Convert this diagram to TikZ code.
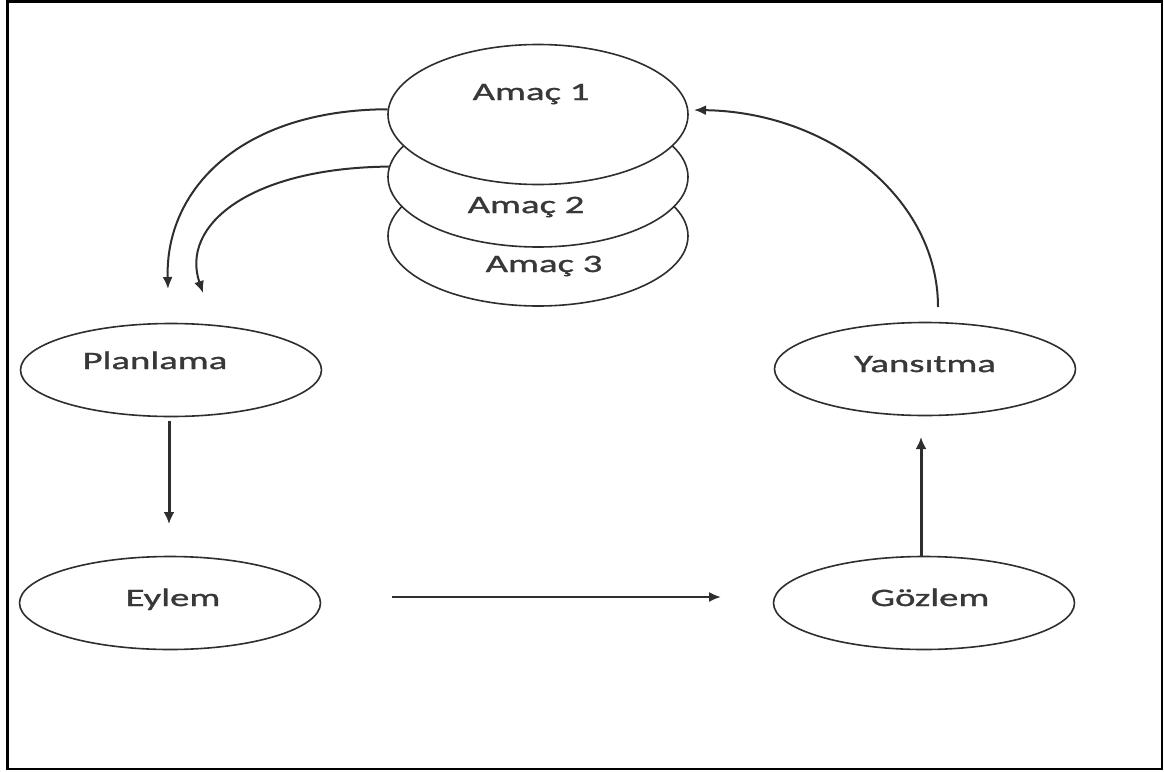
\documentclass[tikz,border=0pt]{standalone}
\usepackage{fontspec}
\setmainfont{Carlito}[FakeStretch=1.55,FakeBold=1.2]
\usetikzlibrary{shapes.geometric,arrows.meta}
\definecolor{ink}{HTML}{2E2E2E}
\definecolor{txt}{HTML}{383838}
\tikzset{
  goal/.style={draw=ink, fill=white, ellipse, line width=1.6pt, inner sep=0pt,
               minimum width=300pt, minimum height=140pt},
  stage/.style={draw=ink, fill=white, ellipse, line width=1.6pt, inner sep=0pt,
               minimum width=301pt, minimum height=93pt},
  lbl/.style={anchor=base, text=txt, font=\fontsize{25pt}{28pt}\selectfont, inner sep=0pt},
  conn/.style={draw=ink, line width=2pt, -{Latex[length=12pt,width=10pt]}},
  thick conn/.style={draw=ink, line width=3pt, -{Latex[length=12pt,width=11pt]}},
}
\begin{document}
\begin{tikzpicture}[x=1pt,y=-1pt]
\useasboundingbox (0,0) rectangle (1164,771);
\draw[line width=2.2pt, draw=black] (7.5,1.5) rectangle (1162,769);

% stacked goals
\node[goal] (a3) at (538,236) {};
\node[goal] (a2) at (538,177) {};
\node[goal] (a1) at (538,114.5) {};
\node[lbl] (t1) at (531,100) {Amaç 1};
\node[lbl] (t2) at (526,213) {Amaç 2};
\node[lbl] (t3) at (544,272) {Amaç 3};

% stages
\node[stage] (plan) at (171,370) {};
\node[stage] (eyl)  at (170,603) {};
\node[stage] (yan)  at (925,369) {};
\node[stage] (goz)  at (924,603) {};
\node[lbl] (tplan) at (155,369) {Planlama};
\node[lbl] (teyl)  at (173,606) {Eylem};
\node[lbl] (tyan)  at (925,372) {Yansıtma};
\node[lbl] (tgoz)  at (930,606) {Gözlem};

% free ends
\coordinate (p1end) at (168,289);
\coordinate (p2end) at (203,293);
\coordinate (planout) at (169,421);
\coordinate (eylin) at (169,524);
\coordinate (eylout) at (392,597);
\coordinate (gozin) at (721,597);
\coordinate (gozout) at (921,556);
\coordinate (yanin) at (921,437);
\coordinate (yanout) at (938,307);
\coordinate (a1in) at (694,110);

% connectors
\draw[conn] (a1.178) .. controls (240,110) and (165,190) .. (p1end);
\draw[conn] (a2.176) .. controls (250,168) and (180,225) .. (p2end);
\draw[thick conn] (planout) -- (eylin);
\draw[conn] (eylout) -- (gozin);
\draw[thick conn] (gozout) -- (yanin);
\draw[conn] (yanout) .. controls (938,198) and (829,112) .. (a1in);
\end{tikzpicture}
\end{document}
